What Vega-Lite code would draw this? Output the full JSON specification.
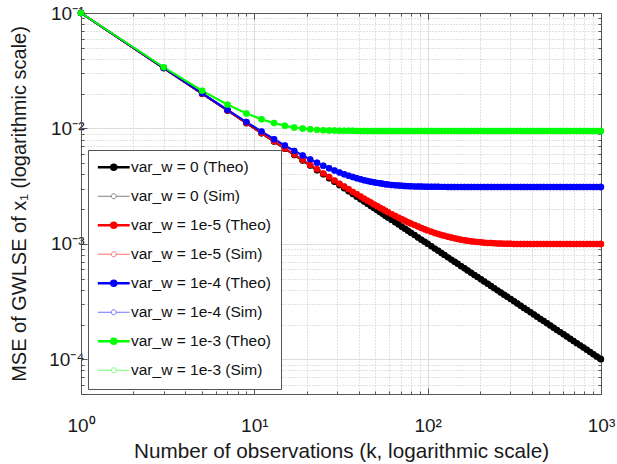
{
  "$schema": "https://vega.github.io/schema/vega-lite/v6.json",
  "description": "MSE of GWLSE of x1 versus number of observations, theory and simulation for four noise variances.",
  "width": 520,
  "height": 381,
  "autosize": {"type": "none"},
  "padding": {"left": 81, "top": 13, "right": 16, "bottom": 70},
  "background": "white",
  "config": {
    "font": "Liberation Sans",
    "view": {"stroke": null},
    "axis": {
      "domainColor": "#555555",
      "tickColor": "#555555",
      "tickWidth": 1,
      "labelColor": "#1a1a1a",
      "titleColor": "#1a1a1a",
      "labelFont": "Liberation Sans",
      "titleFont": "Liberation Sans",
      "titleFontWeight": "normal",
      "labelFontSize": 19,
      "titleFontSize": 20,
      "labelOverlap": false,
      "labelFlush": false,
      "labelBound": false
    },
    "legend": {
      "labelFont": "Liberation Sans",
      "labelFontSize": 15.5,
      "labelColor": "#111111",
      "rowPadding": 12,
      "padding": 9.5,
      "symbolSize": 484,
      "symbolStrokeWidth": 2,
      "symbolOffset": 8.5,
      "labelOffset": 9.5,
      "labelLimit": 0
    }
  },
  "data": {
    "values": [
      {"s":"0S","k":1,"v":0.1},{"s":"0S","k":3,"v":0.033333},{"s":"0S","k":5,"v":0.02},{"s":"0S","k":7,"v":0.014286},{"s":"0S","k":9,"v":0.011111},{"s":"0S","k":11,"v":0.0090909},{"s":"0S","k":13,"v":0.0076923},{"s":"0S","k":15,"v":0.0066667},{"s":"0S","k":17,"v":0.0058824},{"s":"0S","k":19,"v":0.0052632},{"s":"0S","k":21,"v":0.0047619},{"s":"0S","k":23,"v":0.0043478},{"s":"0S","k":25,"v":0.004},{"s":"0S","k":27,"v":0.0037037},{"s":"0S","k":29,"v":0.0034483},{"s":"0S","k":31,"v":0.0032258},{"s":"0S","k":33,"v":0.0030303},{"s":"0S","k":35,"v":0.0028571},{"s":"0S","k":37,"v":0.0027027},{"s":"0S","k":39,"v":0.0025641},{"s":"0S","k":41,"v":0.002439},{"s":"0S","k":43,"v":0.0023256},{"s":"0S","k":45,"v":0.0022222},{"s":"0S","k":47,"v":0.0021277},{"s":"0S","k":49,"v":0.0020408},{"s":"0S","k":51,"v":0.0019608},{"s":"0S","k":53,"v":0.0018868},{"s":"0S","k":55,"v":0.0018182},{"s":"0S","k":57,"v":0.0017544},{"s":"0S","k":59,"v":0.0016949},{"s":"0S","k":62,"v":0.0016129},{"s":"0S","k":65,"v":0.0015385},{"s":"0S","k":68,"v":0.0014706},{"s":"0S","k":71,"v":0.0014085},{"s":"0S","k":74,"v":0.0013514},{"s":"0S","k":77,"v":0.0012987},{"s":"0S","k":80,"v":0.00125},{"s":"0S","k":84,"v":0.0011905},{"s":"0S","k":88,"v":0.0011364},{"s":"0S","k":92,"v":0.001087},{"s":"0S","k":96,"v":0.0010417},{"s":"0S","k":100,"v":0.001},{"s":"0S","k":105,"v":0.00095238},{"s":"0S","k":110,"v":0.00090909},{"s":"0S","k":115,"v":0.00086957},{"s":"0S","k":120,"v":0.00083333},{"s":"0S","k":125,"v":0.0008},{"s":"0S","k":131,"v":0.00076336},{"s":"0S","k":137,"v":0.00072993},{"s":"0S","k":143,"v":0.0006993},{"s":"0S","k":149,"v":0.00067114},{"s":"0S","k":156,"v":0.00064103},{"s":"0S","k":163,"v":0.0006135},{"s":"0S","k":170,"v":0.00058824},{"s":"0S","k":178,"v":0.0005618},{"s":"0S","k":186,"v":0.00053763},{"s":"0S","k":194,"v":0.00051546},{"s":"0S","k":203,"v":0.00049261},{"s":"0S","k":212,"v":0.0004717},{"s":"0S","k":222,"v":0.00045045},{"s":"0S","k":232,"v":0.00043103},{"s":"0S","k":242,"v":0.00041322},{"s":"0S","k":253,"v":0.00039526},{"s":"0S","k":264,"v":0.00037879},{"s":"0S","k":276,"v":0.00036232},{"s":"0S","k":288,"v":0.00034722},{"s":"0S","k":301,"v":0.00033223},{"s":"0S","k":315,"v":0.00031746},{"s":"0S","k":329,"v":0.00030395},{"s":"0S","k":344,"v":0.0002907},{"s":"0S","k":359,"v":0.00027855},{"s":"0S","k":375,"v":0.00026667},{"s":"0S","k":392,"v":0.0002551},{"s":"0S","k":410,"v":0.0002439},{"s":"0S","k":428,"v":0.00023364},{"s":"0S","k":447,"v":0.00022371},{"s":"0S","k":467,"v":0.00021413},{"s":"0S","k":488,"v":0.00020492},{"s":"0S","k":510,"v":0.00019608},{"s":"0S","k":533,"v":0.00018762},{"s":"0S","k":557,"v":0.00017953},{"s":"0S","k":582,"v":0.00017182},{"s":"0S","k":608,"v":0.00016447},{"s":"0S","k":635,"v":0.00015748},{"s":"0S","k":664,"v":0.0001506},{"s":"0S","k":694,"v":0.00014409},{"s":"0S","k":725,"v":0.00013793},{"s":"0S","k":758,"v":0.00013193},{"s":"0S","k":792,"v":0.00012626},{"s":"0S","k":828,"v":0.00012077},{"s":"0S","k":865,"v":0.00011561},{"s":"0S","k":904,"v":0.00011062},{"s":"0S","k":945,"v":0.00010582},{"s":"0S","k":987,"v":0.00010132},{"s":"0S","k":999,"v":0.0001001},
      {"s":"5S","k":1,"v":0.1},{"s":"5S","k":3,"v":0.033339},{"s":"5S","k":5,"v":0.020012},{"s":"5S","k":7,"v":0.014304},{"s":"5S","k":9,"v":0.011136},{"s":"5S","k":11,"v":0.009123},{"s":"5S","k":13,"v":0.007731},{"s":"5S","k":15,"v":0.006712},{"s":"5S","k":17,"v":0.005934},{"s":"5S","k":19,"v":0.005321},{"s":"5S","k":21,"v":0.004827},{"s":"5S","k":23,"v":0.004419},{"s":"5S","k":25,"v":0.004078},{"s":"5S","k":27,"v":0.003788},{"s":"5S","k":29,"v":0.003539},{"s":"5S","k":31,"v":0.003324},{"s":"5S","k":33,"v":0.003135},{"s":"5S","k":35,"v":0.002968},{"s":"5S","k":37,"v":0.00282},{"s":"5S","k":39,"v":0.002688},{"s":"5S","k":41,"v":0.002569},{"s":"5S","k":43,"v":0.002462},{"s":"5S","k":45,"v":0.002365},{"s":"5S","k":47,"v":0.002277},{"s":"5S","k":49,"v":0.002197},{"s":"5S","k":51,"v":0.002123},{"s":"5S","k":53,"v":0.002055},{"s":"5S","k":55,"v":0.001993},{"s":"5S","k":57,"v":0.001935},{"s":"5S","k":59,"v":0.001882},{"s":"5S","k":62,"v":0.001809},{"s":"5S","k":65,"v":0.001744},{"s":"5S","k":68,"v":0.001686},{"s":"5S","k":71,"v":0.001633},{"s":"5S","k":74,"v":0.001584},{"s":"5S","k":77,"v":0.001541},{"s":"5S","k":80,"v":0.001501},{"s":"5S","k":84,"v":0.001453},{"s":"5S","k":88,"v":0.001411},{"s":"5S","k":92,"v":0.001373},{"s":"5S","k":96,"v":0.001339},{"s":"5S","k":100,"v":0.001308},{"s":"5S","k":105,"v":0.001274},{"s":"5S","k":110,"v":0.001244},{"s":"5S","k":115,"v":0.001218},{"s":"5S","k":120,"v":0.001195},{"s":"5S","k":125,"v":0.001174},{"s":"5S","k":131,"v":0.001152},{"s":"5S","k":137,"v":0.001133},{"s":"5S","k":143,"v":0.001117},{"s":"5S","k":149,"v":0.001102},{"s":"5S","k":156,"v":0.001087},{"s":"5S","k":163,"v":0.001075},{"s":"5S","k":170,"v":0.001064},{"s":"5S","k":178,"v":0.001054},{"s":"5S","k":186,"v":0.001045},{"s":"5S","k":194,"v":0.001037},{"s":"5S","k":203,"v":0.00103},{"s":"5S","k":212,"v":0.001024},{"s":"5S","k":222,"v":0.001019},{"s":"5S","k":232,"v":0.001015},{"s":"5S","k":242,"v":0.001011},{"s":"5S","k":253,"v":0.001008},{"s":"5S","k":264,"v":0.001005},{"s":"5S","k":276,"v":0.001003},{"s":"5S","k":288,"v":0.001001},{"s":"5S","k":301,"v":0.0009999},{"s":"5S","k":315,"v":0.0009987},{"s":"5S","k":329,"v":0.0009978},{"s":"5S","k":344,"v":0.0009971},{"s":"5S","k":359,"v":0.0009965},{"s":"5S","k":375,"v":0.0009961},{"s":"5S","k":392,"v":0.0009958},{"s":"5S","k":410,"v":0.0009956},{"s":"5S","k":428,"v":0.0009954},{"s":"5S","k":447,"v":0.0009953},{"s":"5S","k":467,"v":0.0009952},{"s":"5S","k":488,"v":0.0009951},{"s":"5S","k":510,"v":0.000995},{"s":"5S","k":533,"v":0.000995},{"s":"5S","k":557,"v":0.000995},{"s":"5S","k":582,"v":0.000995},{"s":"5S","k":608,"v":0.000995},{"s":"5S","k":635,"v":0.000995},{"s":"5S","k":664,"v":0.000995},{"s":"5S","k":694,"v":0.000995},{"s":"5S","k":725,"v":0.000995},{"s":"5S","k":758,"v":0.000995},{"s":"5S","k":792,"v":0.000995},{"s":"5S","k":828,"v":0.000995},{"s":"5S","k":865,"v":0.000995},{"s":"5S","k":904,"v":0.000995},{"s":"5S","k":945,"v":0.000995},{"s":"5S","k":987,"v":0.000995},{"s":"5S","k":999,"v":0.000995},
      {"s":"4S","k":1,"v":0.1},{"s":"4S","k":3,"v":0.033389},{"s":"4S","k":5,"v":0.02012},{"s":"4S","k":7,"v":0.014471},{"s":"4S","k":9,"v":0.011361},{"s":"4S","k":11,"v":0.009406},{"s":"4S","k":13,"v":0.008072},{"s":"4S","k":15,"v":0.00711},{"s":"4S","k":17,"v":0.006389},{"s":"4S","k":19,"v":0.005833},{"s":"4S","k":21,"v":0.005393},{"s":"4S","k":23,"v":0.00504},{"s":"4S","k":25,"v":0.004751},{"s":"4S","k":27,"v":0.004513},{"s":"4S","k":29,"v":0.004315},{"s":"4S","k":31,"v":0.004149},{"s":"4S","k":33,"v":0.004009},{"s":"4S","k":35,"v":0.003889},{"s":"4S","k":37,"v":0.003787},{"s":"4S","k":39,"v":0.003699},{"s":"4S","k":41,"v":0.003624},{"s":"4S","k":43,"v":0.003559},{"s":"4S","k":45,"v":0.003503},{"s":"4S","k":47,"v":0.003454},{"s":"4S","k":49,"v":0.003411},{"s":"4S","k":51,"v":0.003374},{"s":"4S","k":53,"v":0.003342},{"s":"4S","k":55,"v":0.003314},{"s":"4S","k":57,"v":0.003289},{"s":"4S","k":59,"v":0.003268},{"s":"4S","k":62,"v":0.003241},{"s":"4S","k":65,"v":0.003218},{"s":"4S","k":68,"v":0.0032},{"s":"4S","k":71,"v":0.003184},{"s":"4S","k":74,"v":0.003172},{"s":"4S","k":77,"v":0.003162},{"s":"4S","k":80,"v":0.003153},{"s":"4S","k":84,"v":0.003144},{"s":"4S","k":88,"v":0.003137},{"s":"4S","k":92,"v":0.003132},{"s":"4S","k":96,"v":0.003127},{"s":"4S","k":100,"v":0.003124},{"s":"4S","k":105,"v":0.003121},{"s":"4S","k":110,"v":0.003119},{"s":"4S","k":115,"v":0.003117},{"s":"4S","k":120,"v":0.003116},{"s":"4S","k":125,"v":0.003115},{"s":"4S","k":131,"v":0.003114},{"s":"4S","k":137,"v":0.003114},{"s":"4S","k":143,"v":0.003113},{"s":"4S","k":149,"v":0.003113},{"s":"4S","k":156,"v":0.003113},{"s":"4S","k":163,"v":0.003113},{"s":"4S","k":170,"v":0.003113},{"s":"4S","k":178,"v":0.003113},{"s":"4S","k":186,"v":0.003113},{"s":"4S","k":194,"v":0.003113},{"s":"4S","k":203,"v":0.003113},{"s":"4S","k":212,"v":0.003113},{"s":"4S","k":222,"v":0.003113},{"s":"4S","k":232,"v":0.003113},{"s":"4S","k":242,"v":0.003113},{"s":"4S","k":253,"v":0.003113},{"s":"4S","k":264,"v":0.003113},{"s":"4S","k":276,"v":0.003113},{"s":"4S","k":288,"v":0.003113},{"s":"4S","k":301,"v":0.003113},{"s":"4S","k":315,"v":0.003113},{"s":"4S","k":329,"v":0.003113},{"s":"4S","k":344,"v":0.003113},{"s":"4S","k":359,"v":0.003113},{"s":"4S","k":375,"v":0.003113},{"s":"4S","k":392,"v":0.003113},{"s":"4S","k":410,"v":0.003113},{"s":"4S","k":428,"v":0.003113},{"s":"4S","k":447,"v":0.003113},{"s":"4S","k":467,"v":0.003113},{"s":"4S","k":488,"v":0.003113},{"s":"4S","k":510,"v":0.003113},{"s":"4S","k":533,"v":0.003113},{"s":"4S","k":557,"v":0.003113},{"s":"4S","k":582,"v":0.003113},{"s":"4S","k":608,"v":0.003113},{"s":"4S","k":635,"v":0.003113},{"s":"4S","k":664,"v":0.003113},{"s":"4S","k":694,"v":0.003113},{"s":"4S","k":725,"v":0.003113},{"s":"4S","k":758,"v":0.003113},{"s":"4S","k":792,"v":0.003113},{"s":"4S","k":828,"v":0.003113},{"s":"4S","k":865,"v":0.003113},{"s":"4S","k":904,"v":0.003113},{"s":"4S","k":945,"v":0.003113},{"s":"4S","k":987,"v":0.003113},{"s":"4S","k":999,"v":0.003113},
      {"s":"3S","k":1,"v":0.1},{"s":"3S","k":3,"v":0.033884},{"s":"3S","k":5,"v":0.021174},{"s":"3S","k":7,"v":0.016072},{"s":"3S","k":9,"v":0.013482},{"s":"3S","k":11,"v":0.01201},{"s":"3S","k":13,"v":0.011121},{"s":"3S","k":15,"v":0.010563},{"s":"3S","k":17,"v":0.010205},{"s":"3S","k":19,"v":0.009971},{"s":"3S","k":21,"v":0.009818},{"s":"3S","k":23,"v":0.009716},{"s":"3S","k":25,"v":0.009649},{"s":"3S","k":27,"v":0.009604},{"s":"3S","k":29,"v":0.009573},{"s":"3S","k":31,"v":0.009553},{"s":"3S","k":33,"v":0.00954},{"s":"3S","k":35,"v":0.009531},{"s":"3S","k":37,"v":0.009525},{"s":"3S","k":39,"v":0.009521},{"s":"3S","k":41,"v":0.009518},{"s":"3S","k":43,"v":0.009516},{"s":"3S","k":45,"v":0.009515},{"s":"3S","k":47,"v":0.009514},{"s":"3S","k":49,"v":0.009514},{"s":"3S","k":51,"v":0.009513},{"s":"3S","k":53,"v":0.009513},{"s":"3S","k":55,"v":0.009513},{"s":"3S","k":57,"v":0.009513},{"s":"3S","k":59,"v":0.009513},{"s":"3S","k":62,"v":0.009513},{"s":"3S","k":65,"v":0.009513},{"s":"3S","k":68,"v":0.009513},{"s":"3S","k":71,"v":0.009513},{"s":"3S","k":74,"v":0.009513},{"s":"3S","k":77,"v":0.009513},{"s":"3S","k":80,"v":0.009513},{"s":"3S","k":84,"v":0.009513},{"s":"3S","k":88,"v":0.009513},{"s":"3S","k":92,"v":0.009513},{"s":"3S","k":96,"v":0.009513},{"s":"3S","k":100,"v":0.009513},{"s":"3S","k":105,"v":0.009513},{"s":"3S","k":110,"v":0.009513},{"s":"3S","k":115,"v":0.009513},{"s":"3S","k":120,"v":0.009513},{"s":"3S","k":125,"v":0.009513},{"s":"3S","k":131,"v":0.009513},{"s":"3S","k":137,"v":0.009513},{"s":"3S","k":143,"v":0.009513},{"s":"3S","k":149,"v":0.009513},{"s":"3S","k":156,"v":0.009513},{"s":"3S","k":163,"v":0.009513},{"s":"3S","k":170,"v":0.009513},{"s":"3S","k":178,"v":0.009513},{"s":"3S","k":186,"v":0.009513},{"s":"3S","k":194,"v":0.009513},{"s":"3S","k":203,"v":0.009513},{"s":"3S","k":212,"v":0.009513},{"s":"3S","k":222,"v":0.009513},{"s":"3S","k":232,"v":0.009513},{"s":"3S","k":242,"v":0.009513},{"s":"3S","k":253,"v":0.009513},{"s":"3S","k":264,"v":0.009513},{"s":"3S","k":276,"v":0.009513},{"s":"3S","k":288,"v":0.009513},{"s":"3S","k":301,"v":0.009513},{"s":"3S","k":315,"v":0.009513},{"s":"3S","k":329,"v":0.009513},{"s":"3S","k":344,"v":0.009513},{"s":"3S","k":359,"v":0.009513},{"s":"3S","k":375,"v":0.009513},{"s":"3S","k":392,"v":0.009513},{"s":"3S","k":410,"v":0.009513},{"s":"3S","k":428,"v":0.009513},{"s":"3S","k":447,"v":0.009513},{"s":"3S","k":467,"v":0.009513},{"s":"3S","k":488,"v":0.009513},{"s":"3S","k":510,"v":0.009513},{"s":"3S","k":533,"v":0.009513},{"s":"3S","k":557,"v":0.009513},{"s":"3S","k":582,"v":0.009513},{"s":"3S","k":608,"v":0.009513},{"s":"3S","k":635,"v":0.009513},{"s":"3S","k":664,"v":0.009513},{"s":"3S","k":694,"v":0.009513},{"s":"3S","k":725,"v":0.009513},{"s":"3S","k":758,"v":0.009513},{"s":"3S","k":792,"v":0.009513},{"s":"3S","k":828,"v":0.009513},{"s":"3S","k":865,"v":0.009513},{"s":"3S","k":904,"v":0.009513},{"s":"3S","k":945,"v":0.009513},{"s":"3S","k":987,"v":0.009513},{"s":"3S","k":999,"v":0.009513},
      {"s":"0T","k":1,"v":0.1},{"s":"0T","k":3,"v":0.033333},{"s":"0T","k":5,"v":0.02},{"s":"0T","k":7,"v":0.014286},{"s":"0T","k":9,"v":0.011111},{"s":"0T","k":11,"v":0.0090909},{"s":"0T","k":13,"v":0.0076923},{"s":"0T","k":15,"v":0.0066667},{"s":"0T","k":17,"v":0.0058824},{"s":"0T","k":19,"v":0.0052632},{"s":"0T","k":21,"v":0.0047619},{"s":"0T","k":23,"v":0.0043478},{"s":"0T","k":25,"v":0.004},{"s":"0T","k":27,"v":0.0037037},{"s":"0T","k":29,"v":0.0034483},{"s":"0T","k":31,"v":0.0032258},{"s":"0T","k":33,"v":0.0030303},{"s":"0T","k":35,"v":0.0028571},{"s":"0T","k":37,"v":0.0027027},{"s":"0T","k":39,"v":0.0025641},{"s":"0T","k":41,"v":0.002439},{"s":"0T","k":43,"v":0.0023256},{"s":"0T","k":45,"v":0.0022222},{"s":"0T","k":47,"v":0.0021277},{"s":"0T","k":49,"v":0.0020408},{"s":"0T","k":51,"v":0.0019608},{"s":"0T","k":53,"v":0.0018868},{"s":"0T","k":55,"v":0.0018182},{"s":"0T","k":57,"v":0.0017544},{"s":"0T","k":59,"v":0.0016949},{"s":"0T","k":62,"v":0.0016129},{"s":"0T","k":65,"v":0.0015385},{"s":"0T","k":68,"v":0.0014706},{"s":"0T","k":71,"v":0.0014085},{"s":"0T","k":74,"v":0.0013514},{"s":"0T","k":77,"v":0.0012987},{"s":"0T","k":80,"v":0.00125},{"s":"0T","k":84,"v":0.0011905},{"s":"0T","k":88,"v":0.0011364},{"s":"0T","k":92,"v":0.001087},{"s":"0T","k":96,"v":0.0010417},{"s":"0T","k":100,"v":0.001},{"s":"0T","k":105,"v":0.00095238},{"s":"0T","k":110,"v":0.00090909},{"s":"0T","k":115,"v":0.00086957},{"s":"0T","k":120,"v":0.00083333},{"s":"0T","k":125,"v":0.0008},{"s":"0T","k":131,"v":0.00076336},{"s":"0T","k":137,"v":0.00072993},{"s":"0T","k":143,"v":0.0006993},{"s":"0T","k":149,"v":0.00067114},{"s":"0T","k":156,"v":0.00064103},{"s":"0T","k":163,"v":0.0006135},{"s":"0T","k":170,"v":0.00058824},{"s":"0T","k":178,"v":0.0005618},{"s":"0T","k":186,"v":0.00053763},{"s":"0T","k":194,"v":0.00051546},{"s":"0T","k":203,"v":0.00049261},{"s":"0T","k":212,"v":0.0004717},{"s":"0T","k":222,"v":0.00045045},{"s":"0T","k":232,"v":0.00043103},{"s":"0T","k":242,"v":0.00041322},{"s":"0T","k":253,"v":0.00039526},{"s":"0T","k":264,"v":0.00037879},{"s":"0T","k":276,"v":0.00036232},{"s":"0T","k":288,"v":0.00034722},{"s":"0T","k":301,"v":0.00033223},{"s":"0T","k":315,"v":0.00031746},{"s":"0T","k":329,"v":0.00030395},{"s":"0T","k":344,"v":0.0002907},{"s":"0T","k":359,"v":0.00027855},{"s":"0T","k":375,"v":0.00026667},{"s":"0T","k":392,"v":0.0002551},{"s":"0T","k":410,"v":0.0002439},{"s":"0T","k":428,"v":0.00023364},{"s":"0T","k":447,"v":0.00022371},{"s":"0T","k":467,"v":0.00021413},{"s":"0T","k":488,"v":0.00020492},{"s":"0T","k":510,"v":0.00019608},{"s":"0T","k":533,"v":0.00018762},{"s":"0T","k":557,"v":0.00017953},{"s":"0T","k":582,"v":0.00017182},{"s":"0T","k":608,"v":0.00016447},{"s":"0T","k":635,"v":0.00015748},{"s":"0T","k":664,"v":0.0001506},{"s":"0T","k":694,"v":0.00014409},{"s":"0T","k":725,"v":0.00013793},{"s":"0T","k":758,"v":0.00013193},{"s":"0T","k":792,"v":0.00012626},{"s":"0T","k":828,"v":0.00012077},{"s":"0T","k":865,"v":0.00011561},{"s":"0T","k":904,"v":0.00011062},{"s":"0T","k":945,"v":0.00010582},{"s":"0T","k":987,"v":0.00010132},{"s":"0T","k":999,"v":0.0001001},
      {"s":"5T","k":1,"v":0.1},{"s":"5T","k":3,"v":0.033339},{"s":"5T","k":5,"v":0.020012},{"s":"5T","k":7,"v":0.014304},{"s":"5T","k":9,"v":0.011136},{"s":"5T","k":11,"v":0.009123},{"s":"5T","k":13,"v":0.007731},{"s":"5T","k":15,"v":0.006712},{"s":"5T","k":17,"v":0.005934},{"s":"5T","k":19,"v":0.005321},{"s":"5T","k":21,"v":0.004827},{"s":"5T","k":23,"v":0.004419},{"s":"5T","k":25,"v":0.004078},{"s":"5T","k":27,"v":0.003788},{"s":"5T","k":29,"v":0.003539},{"s":"5T","k":31,"v":0.003324},{"s":"5T","k":33,"v":0.003135},{"s":"5T","k":35,"v":0.002968},{"s":"5T","k":37,"v":0.00282},{"s":"5T","k":39,"v":0.002688},{"s":"5T","k":41,"v":0.002569},{"s":"5T","k":43,"v":0.002462},{"s":"5T","k":45,"v":0.002365},{"s":"5T","k":47,"v":0.002277},{"s":"5T","k":49,"v":0.002197},{"s":"5T","k":51,"v":0.002123},{"s":"5T","k":53,"v":0.002055},{"s":"5T","k":55,"v":0.001993},{"s":"5T","k":57,"v":0.001935},{"s":"5T","k":59,"v":0.001882},{"s":"5T","k":62,"v":0.001809},{"s":"5T","k":65,"v":0.001744},{"s":"5T","k":68,"v":0.001686},{"s":"5T","k":71,"v":0.001633},{"s":"5T","k":74,"v":0.001584},{"s":"5T","k":77,"v":0.001541},{"s":"5T","k":80,"v":0.001501},{"s":"5T","k":84,"v":0.001453},{"s":"5T","k":88,"v":0.001411},{"s":"5T","k":92,"v":0.001373},{"s":"5T","k":96,"v":0.001339},{"s":"5T","k":100,"v":0.001308},{"s":"5T","k":105,"v":0.001274},{"s":"5T","k":110,"v":0.001244},{"s":"5T","k":115,"v":0.001218},{"s":"5T","k":120,"v":0.001195},{"s":"5T","k":125,"v":0.001174},{"s":"5T","k":131,"v":0.001152},{"s":"5T","k":137,"v":0.001133},{"s":"5T","k":143,"v":0.001117},{"s":"5T","k":149,"v":0.001102},{"s":"5T","k":156,"v":0.001087},{"s":"5T","k":163,"v":0.001075},{"s":"5T","k":170,"v":0.001064},{"s":"5T","k":178,"v":0.001054},{"s":"5T","k":186,"v":0.001045},{"s":"5T","k":194,"v":0.001037},{"s":"5T","k":203,"v":0.00103},{"s":"5T","k":212,"v":0.001024},{"s":"5T","k":222,"v":0.001019},{"s":"5T","k":232,"v":0.001015},{"s":"5T","k":242,"v":0.001011},{"s":"5T","k":253,"v":0.001008},{"s":"5T","k":264,"v":0.001005},{"s":"5T","k":276,"v":0.001003},{"s":"5T","k":288,"v":0.001001},{"s":"5T","k":301,"v":0.0009999},{"s":"5T","k":315,"v":0.0009987},{"s":"5T","k":329,"v":0.0009978},{"s":"5T","k":344,"v":0.0009971},{"s":"5T","k":359,"v":0.0009965},{"s":"5T","k":375,"v":0.0009961},{"s":"5T","k":392,"v":0.0009958},{"s":"5T","k":410,"v":0.0009956},{"s":"5T","k":428,"v":0.0009954},{"s":"5T","k":447,"v":0.0009953},{"s":"5T","k":467,"v":0.0009952},{"s":"5T","k":488,"v":0.0009951},{"s":"5T","k":510,"v":0.000995},{"s":"5T","k":533,"v":0.000995},{"s":"5T","k":557,"v":0.000995},{"s":"5T","k":582,"v":0.000995},{"s":"5T","k":608,"v":0.000995},{"s":"5T","k":635,"v":0.000995},{"s":"5T","k":664,"v":0.000995},{"s":"5T","k":694,"v":0.000995},{"s":"5T","k":725,"v":0.000995},{"s":"5T","k":758,"v":0.000995},{"s":"5T","k":792,"v":0.000995},{"s":"5T","k":828,"v":0.000995},{"s":"5T","k":865,"v":0.000995},{"s":"5T","k":904,"v":0.000995},{"s":"5T","k":945,"v":0.000995},{"s":"5T","k":987,"v":0.000995},{"s":"5T","k":999,"v":0.000995},
      {"s":"4T","k":1,"v":0.1},{"s":"4T","k":3,"v":0.033389},{"s":"4T","k":5,"v":0.02012},{"s":"4T","k":7,"v":0.014471},{"s":"4T","k":9,"v":0.011361},{"s":"4T","k":11,"v":0.009406},{"s":"4T","k":13,"v":0.008072},{"s":"4T","k":15,"v":0.00711},{"s":"4T","k":17,"v":0.006389},{"s":"4T","k":19,"v":0.005833},{"s":"4T","k":21,"v":0.005393},{"s":"4T","k":23,"v":0.00504},{"s":"4T","k":25,"v":0.004751},{"s":"4T","k":27,"v":0.004513},{"s":"4T","k":29,"v":0.004315},{"s":"4T","k":31,"v":0.004149},{"s":"4T","k":33,"v":0.004009},{"s":"4T","k":35,"v":0.003889},{"s":"4T","k":37,"v":0.003787},{"s":"4T","k":39,"v":0.003699},{"s":"4T","k":41,"v":0.003624},{"s":"4T","k":43,"v":0.003559},{"s":"4T","k":45,"v":0.003503},{"s":"4T","k":47,"v":0.003454},{"s":"4T","k":49,"v":0.003411},{"s":"4T","k":51,"v":0.003374},{"s":"4T","k":53,"v":0.003342},{"s":"4T","k":55,"v":0.003314},{"s":"4T","k":57,"v":0.003289},{"s":"4T","k":59,"v":0.003268},{"s":"4T","k":62,"v":0.003241},{"s":"4T","k":65,"v":0.003218},{"s":"4T","k":68,"v":0.0032},{"s":"4T","k":71,"v":0.003184},{"s":"4T","k":74,"v":0.003172},{"s":"4T","k":77,"v":0.003162},{"s":"4T","k":80,"v":0.003153},{"s":"4T","k":84,"v":0.003144},{"s":"4T","k":88,"v":0.003137},{"s":"4T","k":92,"v":0.003132},{"s":"4T","k":96,"v":0.003127},{"s":"4T","k":100,"v":0.003124},{"s":"4T","k":105,"v":0.003121},{"s":"4T","k":110,"v":0.003119},{"s":"4T","k":115,"v":0.003117},{"s":"4T","k":120,"v":0.003116},{"s":"4T","k":125,"v":0.003115},{"s":"4T","k":131,"v":0.003114},{"s":"4T","k":137,"v":0.003114},{"s":"4T","k":143,"v":0.003113},{"s":"4T","k":149,"v":0.003113},{"s":"4T","k":156,"v":0.003113},{"s":"4T","k":163,"v":0.003113},{"s":"4T","k":170,"v":0.003113},{"s":"4T","k":178,"v":0.003113},{"s":"4T","k":186,"v":0.003113},{"s":"4T","k":194,"v":0.003113},{"s":"4T","k":203,"v":0.003113},{"s":"4T","k":212,"v":0.003113},{"s":"4T","k":222,"v":0.003113},{"s":"4T","k":232,"v":0.003113},{"s":"4T","k":242,"v":0.003113},{"s":"4T","k":253,"v":0.003113},{"s":"4T","k":264,"v":0.003113},{"s":"4T","k":276,"v":0.003113},{"s":"4T","k":288,"v":0.003113},{"s":"4T","k":301,"v":0.003113},{"s":"4T","k":315,"v":0.003113},{"s":"4T","k":329,"v":0.003113},{"s":"4T","k":344,"v":0.003113},{"s":"4T","k":359,"v":0.003113},{"s":"4T","k":375,"v":0.003113},{"s":"4T","k":392,"v":0.003113},{"s":"4T","k":410,"v":0.003113},{"s":"4T","k":428,"v":0.003113},{"s":"4T","k":447,"v":0.003113},{"s":"4T","k":467,"v":0.003113},{"s":"4T","k":488,"v":0.003113},{"s":"4T","k":510,"v":0.003113},{"s":"4T","k":533,"v":0.003113},{"s":"4T","k":557,"v":0.003113},{"s":"4T","k":582,"v":0.003113},{"s":"4T","k":608,"v":0.003113},{"s":"4T","k":635,"v":0.003113},{"s":"4T","k":664,"v":0.003113},{"s":"4T","k":694,"v":0.003113},{"s":"4T","k":725,"v":0.003113},{"s":"4T","k":758,"v":0.003113},{"s":"4T","k":792,"v":0.003113},{"s":"4T","k":828,"v":0.003113},{"s":"4T","k":865,"v":0.003113},{"s":"4T","k":904,"v":0.003113},{"s":"4T","k":945,"v":0.003113},{"s":"4T","k":987,"v":0.003113},{"s":"4T","k":999,"v":0.003113},
      {"s":"3T","k":1,"v":0.1},{"s":"3T","k":3,"v":0.033884},{"s":"3T","k":5,"v":0.021174},{"s":"3T","k":7,"v":0.016072},{"s":"3T","k":9,"v":0.013482},{"s":"3T","k":11,"v":0.01201},{"s":"3T","k":13,"v":0.011121},{"s":"3T","k":15,"v":0.010563},{"s":"3T","k":17,"v":0.010205},{"s":"3T","k":19,"v":0.009971},{"s":"3T","k":21,"v":0.009818},{"s":"3T","k":23,"v":0.009716},{"s":"3T","k":25,"v":0.009649},{"s":"3T","k":27,"v":0.009604},{"s":"3T","k":29,"v":0.009573},{"s":"3T","k":31,"v":0.009553},{"s":"3T","k":33,"v":0.00954},{"s":"3T","k":35,"v":0.009531},{"s":"3T","k":37,"v":0.009525},{"s":"3T","k":39,"v":0.009521},{"s":"3T","k":41,"v":0.009518},{"s":"3T","k":43,"v":0.009516},{"s":"3T","k":45,"v":0.009515},{"s":"3T","k":47,"v":0.009514},{"s":"3T","k":49,"v":0.009514},{"s":"3T","k":51,"v":0.009513},{"s":"3T","k":53,"v":0.009513},{"s":"3T","k":55,"v":0.009513},{"s":"3T","k":57,"v":0.009513},{"s":"3T","k":59,"v":0.009513},{"s":"3T","k":62,"v":0.009513},{"s":"3T","k":65,"v":0.009513},{"s":"3T","k":68,"v":0.009513},{"s":"3T","k":71,"v":0.009513},{"s":"3T","k":74,"v":0.009513},{"s":"3T","k":77,"v":0.009513},{"s":"3T","k":80,"v":0.009513},{"s":"3T","k":84,"v":0.009513},{"s":"3T","k":88,"v":0.009513},{"s":"3T","k":92,"v":0.009513},{"s":"3T","k":96,"v":0.009513},{"s":"3T","k":100,"v":0.009513},{"s":"3T","k":105,"v":0.009513},{"s":"3T","k":110,"v":0.009513},{"s":"3T","k":115,"v":0.009513},{"s":"3T","k":120,"v":0.009513},{"s":"3T","k":125,"v":0.009513},{"s":"3T","k":131,"v":0.009513},{"s":"3T","k":137,"v":0.009513},{"s":"3T","k":143,"v":0.009513},{"s":"3T","k":149,"v":0.009513},{"s":"3T","k":156,"v":0.009513},{"s":"3T","k":163,"v":0.009513},{"s":"3T","k":170,"v":0.009513},{"s":"3T","k":178,"v":0.009513},{"s":"3T","k":186,"v":0.009513},{"s":"3T","k":194,"v":0.009513},{"s":"3T","k":203,"v":0.009513},{"s":"3T","k":212,"v":0.009513},{"s":"3T","k":222,"v":0.009513},{"s":"3T","k":232,"v":0.009513},{"s":"3T","k":242,"v":0.009513},{"s":"3T","k":253,"v":0.009513},{"s":"3T","k":264,"v":0.009513},{"s":"3T","k":276,"v":0.009513},{"s":"3T","k":288,"v":0.009513},{"s":"3T","k":301,"v":0.009513},{"s":"3T","k":315,"v":0.009513},{"s":"3T","k":329,"v":0.009513},{"s":"3T","k":344,"v":0.009513},{"s":"3T","k":359,"v":0.009513},{"s":"3T","k":375,"v":0.009513},{"s":"3T","k":392,"v":0.009513},{"s":"3T","k":410,"v":0.009513},{"s":"3T","k":428,"v":0.009513},{"s":"3T","k":447,"v":0.009513},{"s":"3T","k":467,"v":0.009513},{"s":"3T","k":488,"v":0.009513},{"s":"3T","k":510,"v":0.009513},{"s":"3T","k":533,"v":0.009513},{"s":"3T","k":557,"v":0.009513},{"s":"3T","k":582,"v":0.009513},{"s":"3T","k":608,"v":0.009513},{"s":"3T","k":635,"v":0.009513},{"s":"3T","k":664,"v":0.009513},{"s":"3T","k":694,"v":0.009513},{"s":"3T","k":725,"v":0.009513},{"s":"3T","k":758,"v":0.009513},{"s":"3T","k":792,"v":0.009513},{"s":"3T","k":828,"v":0.009513},{"s":"3T","k":865,"v":0.009513},{"s":"3T","k":904,"v":0.009513},{"s":"3T","k":945,"v":0.009513},{"s":"3T","k":987,"v":0.009513},{"s":"3T","k":999,"v":0.009513}
    ]
  },
  "layer": [
    {
      "mark": {"type": "line", "strokeWidth": 2},
      "encoding": {
        "x": {
          "field": "k", "type": "quantitative",
          "scale": {"type": "log", "domain": [1, 1000]},
          "axis": {
            "orient": "bottom",
            "values": [1,2,3,4,5,6,7,8,9,10,20,30,40,50,60,70,80,90,100,200,300,400,500,600,700,800,900,1000],
            "labelExpr": "datum.value == 1 ? '10⁰' : datum.value == 10 ? '10¹' : datum.value == 100 ? '10²' : datum.value == 1000 ? '10³' : ''",
            "title": "Number of observations (k, logarithmic scale)",
            "titleFontSize": 20.7,
            "labelPadding": 28,
            "titlePadding": 3,
            "grid": true,
            "gridColor": {"condition": {"test": "indexof([1,10,100,1000], datum.value) >= 0", "value": "#dddddd"}, "value": "#c4c4c4"},
            "gridDash": {"condition": {"test": "indexof([1,10,100,1000], datum.value) >= 0", "value": []}, "value": [1, 2]},
            "tickSize": {"condition": {"test": "indexof([1,10,100,1000], datum.value) >= 0", "value": -6}, "value": -3}
          }
        },
        "y": {
          "field": "v", "type": "quantitative",
          "scale": {"type": "log", "domain": [0.00005, 0.1]},
          "axis": {
            "orient": "left",
            "values": [0.00005,0.00006,0.00007,0.00008,0.00009,0.0001,0.0002,0.0003,0.0004,0.0005,0.0006,0.0007,0.0008,0.0009,0.001,0.002,0.003,0.004,0.005,0.006,0.007,0.008,0.009,0.01,0.02,0.03,0.04,0.05,0.06,0.07,0.08,0.09,0.1],
            "labelExpr": "datum.value == 0.1 ? '10⁻¹' : datum.value == 0.01 ? '10⁻²' : datum.value == 0.001 ? '10⁻³' : datum.value == 0.0001 ? '10⁻⁴' : ''",
            "title": "MSE of GWLSE of x₁ (logarithmic scale)",
            "labelPadding": 3,
            "titlePadding": 19,
            "grid": true,
            "gridColor": {"condition": {"test": "indexof([0.0001,0.001,0.01,0.1], datum.value) >= 0", "value": "#dddddd"}, "value": "#c4c4c4"},
            "gridDash": {"condition": {"test": "indexof([0.0001,0.001,0.01,0.1], datum.value) >= 0", "value": []}, "value": [1, 2]},
            "tickSize": {"condition": {"test": "indexof([0.0001,0.001,0.01,0.1], datum.value) >= 0", "value": -6}, "value": -3}
          }
        },
        "stroke": {
          "field": "s", "type": "nominal",
          "scale": {"domain": ["0T","0S","5T","5S","4T","4S","3T","3S"], "range": ["#000000","#808080","#ff0000","#ff7070","#0000ff","#7070ff","#00ff00","#70ff70"]},
          "legend": {"orient": "none", "legendX": 7, "legendY": 137, "title": null, "symbolType": "M-1.45,0H-0.23M0.23,0H1.45M-0.23,0A0.23,0.23,0,1,0,0.23,0A0.23,0.23,0,1,0,-0.23,0Z", "symbolSize": 484, "symbolOffset": 8.5, "symbolStrokeWidth": 2, "labelFontSize": 15.5, "labelFont": "Liberation Sans", "labelColor": "#111111", "labelOffset": 9.5, "labelLimit": 0, "rowPadding": 12, "padding": 9.5, "strokeColor": "#555555", "fillColor": "white",
            "labelExpr": "['var_w = 0 (Theo)','var_w = 0 (Sim)','var_w = 1e-5 (Theo)','var_w = 1e-5 (Sim)','var_w = 1e-4 (Theo)','var_w = 1e-4 (Sim)','var_w = 1e-3 (Theo)','var_w = 1e-3 (Sim)'][indexof(['0T','0S','5T','5S','4T','4S','3T','3S'], datum.label)]",
            "encode": {"symbols": {"update": {
              "stroke": {"scale": "stroke", "field": "value"},
              "fill": {"signal": "indexof(['0S','5S','4S','3S'], datum.value) >= 0 ? 'white' : scale('stroke', datum.value)"},
              "strokeWidth": {"signal": "indexof(['0S','5S','4S','3S'], datum.value) >= 0 ? 1 : 2.4"},
              "opacity": {"value": 1}
            }}}
          }
        }
      }
    },
    {
      "mark": {"type": "point", "shape": "circle", "size": 20, "strokeWidth": 2, "opacity": 1},
      "encoding": {
        "x": {
          "field": "k", "type": "quantitative",
          "scale": {"type": "log", "domain": [1, 1000]},
          "axis": {
            "orient": "top",
            "values": [1,2,3,4,5,6,7,8,9,10,20,30,40,50,60,70,80,90,100,200,300,400,500,600,700,800,900,1000],
            "labels": false, "title": null, "grid": false,
            "tickSize": {"condition": {"test": "indexof([1,10,100,1000], datum.value) >= 0", "value": -6}, "value": -3}
          }
        },
        "y": {
          "field": "v", "type": "quantitative",
          "scale": {"type": "log", "domain": [0.00005, 0.1]},
          "axis": {
            "orient": "right",
            "values": [0.00005,0.00006,0.00007,0.00008,0.00009,0.0001,0.0002,0.0003,0.0004,0.0005,0.0006,0.0007,0.0008,0.0009,0.001,0.002,0.003,0.004,0.005,0.006,0.007,0.008,0.009,0.01,0.02,0.03,0.04,0.05,0.06,0.07,0.08,0.09,0.1],
            "labels": false, "title": null, "grid": false,
            "tickSize": {"condition": {"test": "indexof([0.0001,0.001,0.01,0.1], datum.value) >= 0", "value": -6}, "value": -3}
          }
        },
        "stroke": {
          "field": "s", "type": "nominal",
          "legend": {"orient": "none", "legendX": 7, "legendY": 137, "title": null, "symbolType": "M-1.45,0H-0.23M0.23,0H1.45M-0.23,0A0.23,0.23,0,1,0,0.23,0A0.23,0.23,0,1,0,-0.23,0Z", "symbolSize": 484, "symbolOffset": 8.5, "symbolStrokeWidth": 2, "labelFontSize": 15.5, "labelFont": "Liberation Sans", "labelColor": "#111111", "labelOffset": 9.5, "labelLimit": 0, "rowPadding": 12, "padding": 9.5, "strokeColor": "#555555", "fillColor": "white",
            "labelExpr": "['var_w = 0 (Theo)','var_w = 0 (Sim)','var_w = 1e-5 (Theo)','var_w = 1e-5 (Sim)','var_w = 1e-4 (Theo)','var_w = 1e-4 (Sim)','var_w = 1e-3 (Theo)','var_w = 1e-3 (Sim)'][indexof(['0T','0S','5T','5S','4T','4S','3T','3S'], datum.label)]",
            "encode": {"symbols": {"update": {
              "stroke": {"scale": "stroke", "field": "value"},
              "fill": {"signal": "indexof(['0S','5S','4S','3S'], datum.value) >= 0 ? 'white' : scale('stroke', datum.value)"},
              "strokeWidth": {"signal": "indexof(['0S','5S','4S','3S'], datum.value) >= 0 ? 1 : 2.4"},
              "opacity": {"value": 1}
            }}}
          }
        },
        "fill": {
          "field": "s", "type": "nominal",
          "scale": {"domain": ["0T","0S","5T","5S","4T","4S","3T","3S"], "range": ["#000000","transparent","#ff0000","transparent","#0000ff","transparent","#00ff00","transparent"]},
          "legend": null
        }
      }
    }
  ],
  "resolve": {"axis": {"x": "independent", "y": "independent"}}
}
